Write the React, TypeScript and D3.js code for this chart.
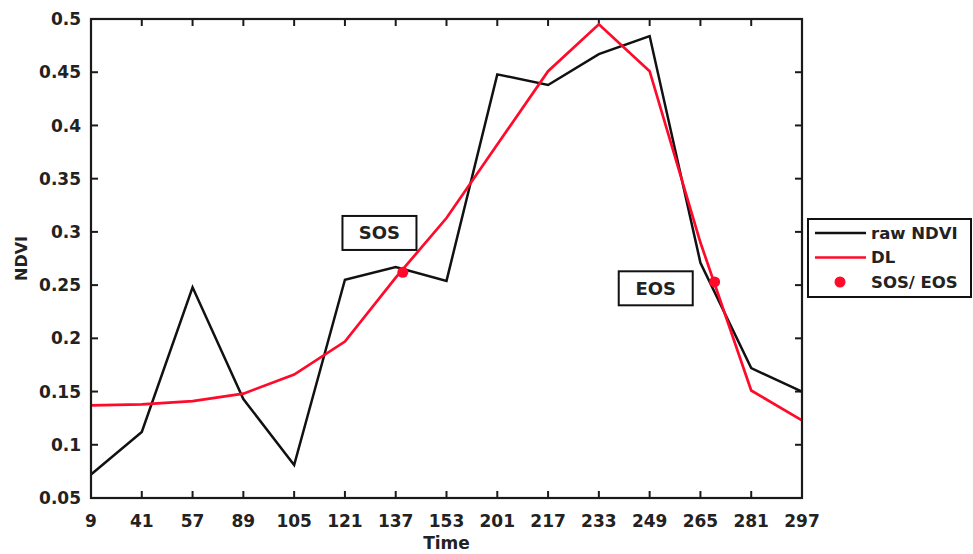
import React, { useEffect, useRef } from 'react';
import * as d3 from 'd3';

// day-of-year labels on the x axis (equally spaced categories)
const times = ['9', '41', '57', '89', '105', '121', '137', '153', '201', '217', '233', '249', '265', '281', '297'];

const rawNdvi = [0.072, 0.112, 0.248, 0.143, 0.081, 0.255, 0.267, 0.254, 0.448, 0.438, 0.467, 0.484, 0.271, 0.172, 0.15];
const dlFit = [0.137, 0.138, 0.141, 0.148, 0.166, 0.197, 0.257, 0.313, 0.382, 0.451, 0.495, 0.451, 0.29, 0.151, 0.123];

// SOS / EOS markers, position given as fractional category index
const phenoIdx = [6.14, 12.28];
const phenoVal = [0.262, 0.253];

const annoText = ['SOS', 'EOS'];
const annoIdx = [5.68, 11.12];
const annoVal = [0.299, 0.247];

const yTicks = [0.05, 0.1, 0.15, 0.2, 0.25, 0.3, 0.35, 0.4, 0.45, 0.5];

const RED = '#ff0a2a';
const FONT = 'DejaVu Sans, Arial, sans-serif';

const App = () => {
  const svgRef = useRef<SVGSVGElement>(null);

  useEffect(() => {
    const svg = d3.select(svgRef.current);
    svg.selectAll('*').remove();

    const margin = { top: 19, left: 91, right: 802, bottom: 498 };

    const x = d3.scaleLinear().domain([0, times.length - 1]).range([margin.left, margin.right]);
    const y = d3.scaleLinear().domain([0.05, 0.5]).range([margin.bottom, margin.top]);

    svg.append('rect').attr('width', 973).attr('height', 554).attr('fill', '#fff');

    const tickLen = 7;
    const axisG = svg.append('g').attr('stroke', '#1a1a1a').attr('stroke-width', 2);

    // x ticks, bottom and top, pointing inward
    times.forEach((_, i) => {
      axisG.append('line').attr('x1', x(i)).attr('x2', x(i)).attr('y1', margin.bottom).attr('y2', margin.bottom - tickLen);
      axisG.append('line').attr('x1', x(i)).attr('x2', x(i)).attr('y1', margin.top).attr('y2', margin.top + tickLen);
    });
    yTicks.forEach(t => {
      axisG.append('line').attr('x1', margin.left).attr('x2', margin.left + tickLen).attr('y1', y(t)).attr('y2', y(t));
      axisG.append('line').attr('x1', margin.right).attr('x2', margin.right - tickLen).attr('y1', y(t)).attr('y2', y(t));
    });

    const line = d3.line<number>()
      .x((_, i) => x(i))
      .y(d => y(d));

    svg.append('path')
      .datum(rawNdvi)
      .attr('fill', 'none')
      .attr('stroke', '#111')
      .attr('stroke-width', 2.5)
      .attr('d', line);

    svg.append('path')
      .datum(dlFit)
      .attr('fill', 'none')
      .attr('stroke', RED)
      .attr('stroke-width', 2.7)
      .attr('d', line);

    svg.selectAll('.pheno')
      .data(phenoIdx)
      .enter()
      .append('circle')
      .attr('class', 'pheno')
      .attr('cx', d => x(d))
      .attr('cy', (_, i) => y(phenoVal[i]))
      .attr('r', 5.5)
      .attr('fill', RED);

    // box frame on top
    svg.append('rect')
      .attr('x', margin.left)
      .attr('y', margin.top)
      .attr('width', margin.right - margin.left)
      .attr('height', margin.bottom - margin.top)
      .attr('fill', 'none')
      .attr('stroke', '#1a1a1a')
      .attr('stroke-width', 2.2);

    // tick labels
    svg.selectAll('.xt')
      .data(times)
      .enter()
      .append('text')
      .attr('x', (_, i) => x(i))
      .attr('y', 527)
      .attr('text-anchor', 'middle')
      .attr('font-family', FONT)
      .attr('font-weight', 'bold')
      .attr('font-size', 17)
      .attr('fill', '#222')
      .text(d => d);

    svg.selectAll('.yt')
      .data(yTicks)
      .enter()
      .append('text')
      .attr('x', 81)
      .attr('y', d => y(d))
      .attr('dy', '0.36em')
      .attr('text-anchor', 'end')
      .attr('font-family', FONT)
      .attr('font-weight', 'bold')
      .attr('font-size', 17)
      .attr('fill', '#222')
      .text(d => String(d));

    svg.append('text')
      .attr('x', (margin.left + margin.right) / 2)
      .attr('y', 549)
      .attr('text-anchor', 'middle')
      .attr('font-family', FONT)
      .attr('font-weight', 'bold')
      .attr('font-size', 17)
      .attr('fill', '#222')
      .text('Time');

    svg.append('text')
      .attr('transform', `translate(27,${(margin.top + margin.bottom) / 2}) rotate(-90)`)
      .attr('text-anchor', 'middle')
      .attr('font-family', FONT)
      .attr('font-weight', 'bold')
      .attr('font-size', 16)
      .attr('fill', '#222')
      .text('NDVI');

    // SOS / EOS annotation boxes
    const anno = svg.selectAll('.anno')
      .data(annoText)
      .enter()
      .append('g')
      .attr('transform', (_, i) => `translate(${x(annoIdx[i])},${y(annoVal[i])})`);
    anno.append('rect')
      .attr('x', -37)
      .attr('y', -17)
      .attr('width', 74)
      .attr('height', 34)
      .attr('fill', '#fff')
      .attr('stroke', '#111')
      .attr('stroke-width', 2);
    anno.append('text')
      .attr('text-anchor', 'middle')
      .attr('dy', '0.36em')
      .attr('font-family', FONT)
      .attr('font-weight', 'bold')
      .attr('font-size', 18)
      .attr('fill', '#222')
      .text(d => d);

    // legend
    const lg = svg.append('g').attr('transform', 'translate(808,219)');
    lg.append('rect')
      .attr('width', 163)
      .attr('height', 78)
      .attr('fill', '#fff')
      .attr('stroke', '#111')
      .attr('stroke-width', 2);
    const items = [
      { label: 'raw NDVI', color: '#111', type: 'line' },
      { label: 'DL', color: RED, type: 'line' },
      { label: 'SOS/ EOS', color: RED, type: 'dot' },
    ];
    items.forEach((it, i) => {
      const cy = 14 + i * 24.5;
      if (it.type === 'line') {
        lg.append('line').attr('x1', 7).attr('x2', 58).attr('y1', cy).attr('y2', cy)
          .attr('stroke', it.color).attr('stroke-width', 2.5);
      } else {
        lg.append('circle').attr('cx', 32).attr('cy', cy).attr('r', 5.5).attr('fill', it.color);
      }
      lg.append('text')
        .attr('x', 63)
        .attr('y', cy)
        .attr('dy', '0.36em')
        .attr('font-family', FONT)
        .attr('font-weight', 'bold')
        .attr('font-size', 16.5)
        .attr('fill', '#222')
        .text(it.label);
    });
  }, []);

  return (
    <svg
      ref={svgRef}
      width={973}
      height={554}
      style={{ position: 'absolute', left: 0, top: 0 }}
    />
  );
};

export default App;
